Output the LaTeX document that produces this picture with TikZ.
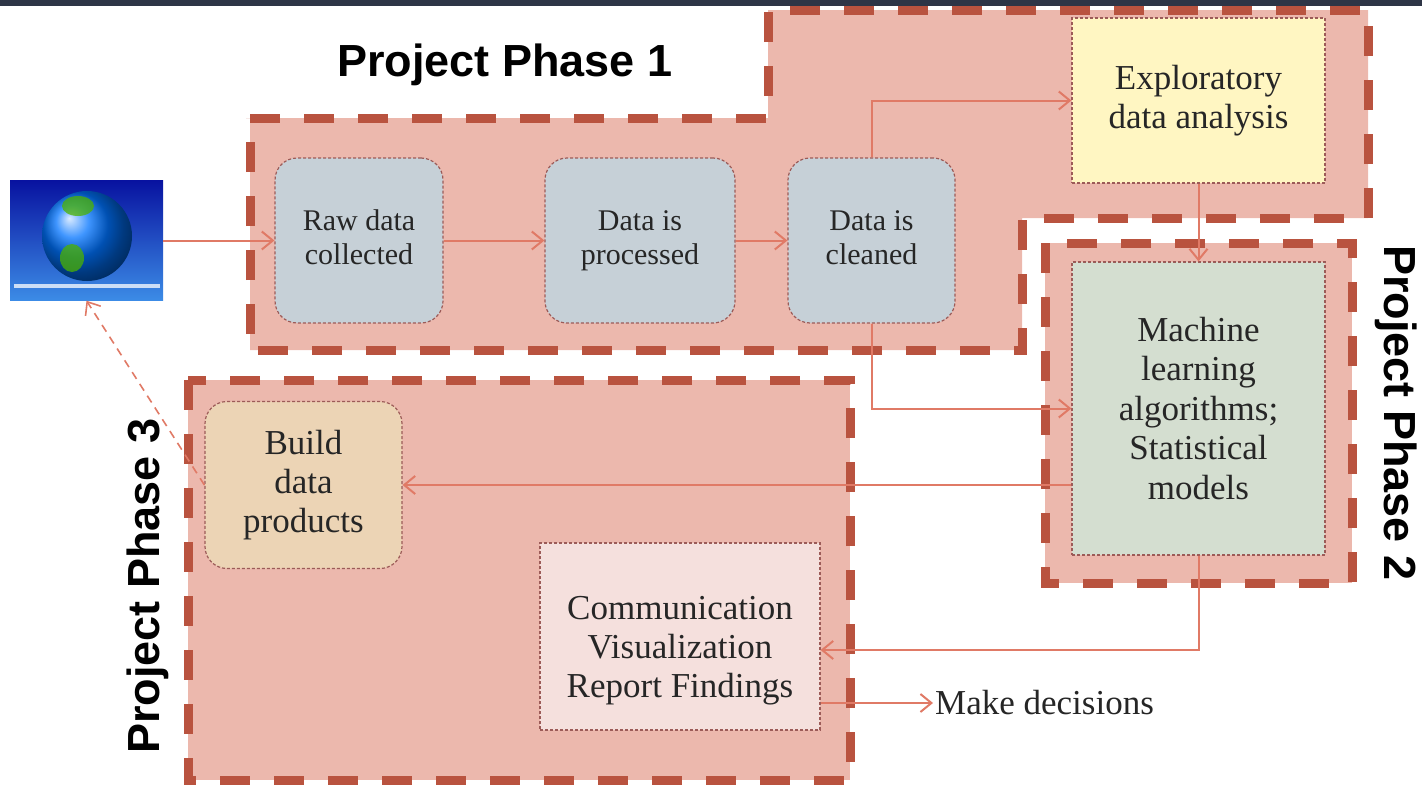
\documentclass[tikz,border=0pt]{standalone}
\usepackage{fontspec}
\setmainfont{Liberation Serif}
\newfontfamily\phasefont{Liberation Sans}
\usepackage{xcolor}
\usepackage{tikz}
\usetikzlibrary{shapes,positioning,arrows.meta}
\definecolor{topbar}{RGB}{46,53,70}
\definecolor{regionfill}{RGB}{236,184,173}
\definecolor{rust}{RGB}{185,83,63}
\definecolor{flowline}{RGB}{224,122,102}
\definecolor{cardline}{RGB}{156,91,88}
\definecolor{stagefill}{RGB}{198,208,215}
\definecolor{edafill}{RGB}{255,246,194}
\definecolor{mlfill}{RGB}{212,222,208}
\definecolor{buildfill}{RGB}{236,212,181}
\definecolor{commfill}{RGB}{245,224,221}
\definecolor{globetop}{RGB}{8,18,160}
\definecolor{globebot}{RGB}{60,140,230}
\tikzset{phase/.style={draw=rust,fill=regionfill,line width=9pt,dash pattern=on 30pt off 24pt}}
\tikzset{card/.style={draw=cardline,line width=1.2pt,dash pattern=on 3pt off 2pt,align=center,inner sep=0pt,text=black!85,font=\fontsize{35}{39}\selectfont}}
\tikzset{stage/.style={card,rounded corners=22pt,fill=stagefill,minimum height=165pt,font=\fontsize{30}{34}\selectfont}}
\tikzset{flow/.style={->,draw=flowline,line width=2pt}}
\tikzset{tag/.style={font=\phasefont\bfseries\fontsize{45}{54}\selectfont}}
\tikzset{globe/.style={rectangle,minimum width=153pt,minimum height=120pt,inner sep=0pt,top color=globetop,bottom color=globebot}}

\begin{document}
\begin{tikzpicture}[x=1pt,y=-1pt,>={Straight Barb[length=11pt,width=18pt]}]
    \useasboundingbox (0,0) rectangle (1422,787);
    \fill[topbar] (0,0) rectangle (1422,6);

    % phase regions
    \draw[phase] (250,118) -- (768,118) -- (768,10) -- (1368,10) -- (1368,218) -- (1022,218) -- (1022,350) -- (250,350) -- cycle;
    \draw[phase] (1045,243) rectangle (1352,583);
    \draw[phase] (188,380) rectangle (850,780);

    \node[tag] (p1)at (505,65) {Project Phase 1};
    \node[tag,rotate=-90] (p2)at (1396,413) {Project Phase 2};
    \node[tag,rotate=90] (p3)at (148,586) {Project Phase 3};

    % globe picture
    \node[globe] (globe)at (86.5,240.5) {};
    \fill[white,opacity=.75] (14,284) rectangle (160,288);
    \shade[ball color=blue!55!cyan] (87,236) circle (45);
    \fill[green!40!olive,opacity=.75] (78,206) ellipse (16 and 10);
    \fill[green!40!olive,opacity=.75] (72,258) ellipse (12 and 14);

    \node[stage,minimum width=168pt] (raw)at (359,240.5) {\strut Raw data\\collected\strut};
    \node[stage,minimum width=190pt] (proc)at (640,240.5) {\strut Data is\\processed\strut};
    \node[stage,minimum width=167pt] (clean)at (871.5,240.5) {\strut Data is\\cleaned\strut};
    \node[card,fill=edafill,minimum width=253pt,minimum height=165pt] (eda)at (1198.5,100.5) {Exploratory\\data analysis};
    \node[card,fill=mlfill,minimum width=253pt,minimum height=293pt,font=\fontsize{35}{39.5}\selectfont] (ml)at (1198.5,408.5) {Machine\\learning\\algorithms;\\Statistical\\models};
    \node[card,rounded corners=22pt,fill=buildfill,minimum width=197pt,minimum height=167pt] (build)at (303.5,485) {Build\\data\\products};
    \node[card,fill=commfill,minimum width=280pt,minimum height=187pt] (comm)at (680,636.5) {};
    \node[font=\fontsize{35}{39}\selectfont,align=center,text=black!85] (commtxt)at (680,651) {Communication\\Visualization\\Report Findings};
    \node[font=\fontsize{35}{39}\selectfont,text=black!85,anchor=west,inner sep=2pt] (decide)at (933,703) {Make decisions};

    \draw [flow] (globe) to [] (raw);
    \draw [flow] (raw) to [] (proc);
    \draw [flow] (proc) to [] (clean);
    \draw [flow] (clean.north) |- (eda.west);
    \draw [flow] (eda) to [] (ml);
    \draw [flow] (clean.south) |- (ml.west);
    \draw [flow] (ml.west |- build.east) to [] (build.east);
    \draw [flow] (ml.south) |- ([yshift=-13.5pt]comm.east);
    \draw [flow] (decide.west -| comm.east) to [] (decide.west);
    \draw [flow,dash pattern=on 8pt off 6pt,line width=1.6pt] (build.west) to [] (globe.south);
\end{tikzpicture}
\end{document}
